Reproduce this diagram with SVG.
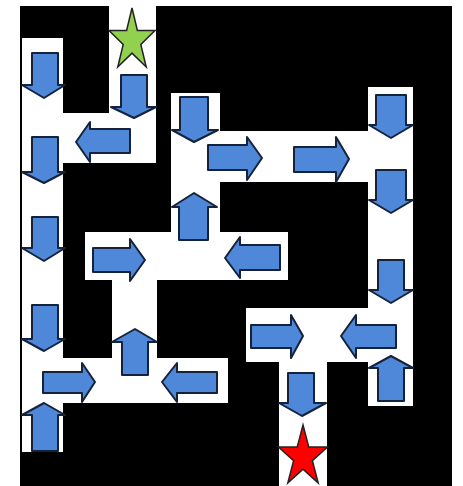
<svg xmlns="http://www.w3.org/2000/svg" width="463" height="486" viewBox="0 0 463 486">
<style>
.wall{fill:#000}
.path{fill:#fff}
.arrow{fill:#4f88d8;stroke:#14223c;stroke-width:2;stroke-linejoin:round}
.star{stroke:#222;stroke-width:1.5;stroke-linejoin:miter}
</style>
<rect width="463" height="486" fill="#fff"/>
<g id="maze">
<rect class="wall" x="20" y="6" width="432" height="480"/>
<rect class="path" x="109" y="6" width="47" height="157"/>
<rect class="path" x="22" y="38" width="41" height="414"/>
<rect class="path" x="22" y="113" width="134" height="50"/>
<rect class="path" x="171" y="93" width="49" height="140"/>
<rect class="path" x="171" y="131" width="242" height="51"/>
<rect class="path" x="368" y="87" width="45" height="319"/>
<rect class="path" x="85" y="232" width="203" height="48"/>
<rect class="path" x="112" y="279" width="45" height="80"/>
<rect class="path" x="22" y="358" width="206" height="45"/>
<rect class="path" x="246" y="308" width="167" height="54"/>
<rect class="path" x="279" y="361" width="48" height="125"/>
</g>
<g id="arrows">
<polygon id="a1" class="arrow" points="32,53 58,53 58,85 65,85 44,98 22,85 32,85"/>
<polygon id="a2" class="arrow" points="121,75 147,75 147,107 156,107 134,118 111,107 121,107"/>
<polygon id="a3" class="arrow" points="130,129 90,129 90,122 76,142 90,162 90,153 130,153"/>
<polygon id="a4" class="arrow" points="32,137 58,137 58,172 65,172 44,183 22,172 32,172"/>
<polygon id="a5" class="arrow" points="32,217 58,217 58,248 65,248 44,261 22,248 32,248"/>
<polygon id="a6" class="arrow" points="32,305 58,305 58,339 65,339 44,351 22,339 32,339"/>
<polygon id="a7" class="arrow" points="44,403 65,415 58,415 58,451 32,451 32,415 22,415"/>
<polygon id="a8" class="arrow" points="43,372 82,372 82,363 95,382 82,402 82,393 43,393"/>
<polygon id="a9" class="arrow" points="135,329 157,342 148,342 148,375 122,375 122,342 112,342"/>
<polygon id="a10" class="arrow" points="217,372 177,372 177,363 162,382 177,402 177,393 217,393"/>
<polygon id="a11" class="arrow" points="93,248 130,248 130,239 145,260 130,281 130,272 93,272"/>
<polygon id="a12" class="arrow" points="194,193 217,207 208,207 208,240 179,240 179,207 172,207"/>
<polygon id="a13" class="arrow" points="280,245 240,245 240,237 225,258 240,278 240,270 280,270"/>
<polygon id="a14" class="arrow" points="180,97 208,97 208,130 218,130 194,142 172,130 180,130"/>
<polygon id="a15" class="arrow" points="208,145 247,145 247,137 262,158 247,180 247,170 208,170"/>
<polygon id="a16" class="arrow" points="294,147 336,147 336,137 349,159 336,182 336,172 294,172"/>
<polygon id="a17" class="arrow" points="376,95 406,95 406,125 413,125 391,138 369,125 376,125"/>
<polygon id="a18" class="arrow" points="376,170 406,170 406,200 413,200 391,213 369,200 376,200"/>
<polygon id="a19" class="arrow" points="378,260 404,260 404,290 413,290 391,303 369,290 378,290"/>
<polygon id="a20" class="arrow" points="251,325 291,325 291,315 303,336 291,358 291,348 251,348"/>
<polygon id="a21" class="arrow" points="396,325 356,325 356,315 341,336 356,358 356,348 396,348"/>
<polygon id="a22" class="arrow" points="391,356 413,368 404,368 404,401 378,401 378,368 369,368"/>
<polygon id="a23" class="arrow" points="288,373 314,373 314,403 326,403 302,416 279,403 288,403"/>
</g>
<g id="start">
<polygon class="star" fill="#92d050" points="132,8 137.4,30.5 155,30.5 140.8,44.4 146.2,67 132,53.1 117.8,67 123.2,44.4 109,30.5 126.6,30.5"/>
</g>
<g id="goal">
<polygon class="star" fill="#ff0000" points="303,425 308.8,447.1 327.5,447.1 312.4,460.8 318.2,482.9 303,469.2 287.8,482.9 293.6,460.8 278.5,447.1 297.2,447.1"/>
</g>
</svg>
